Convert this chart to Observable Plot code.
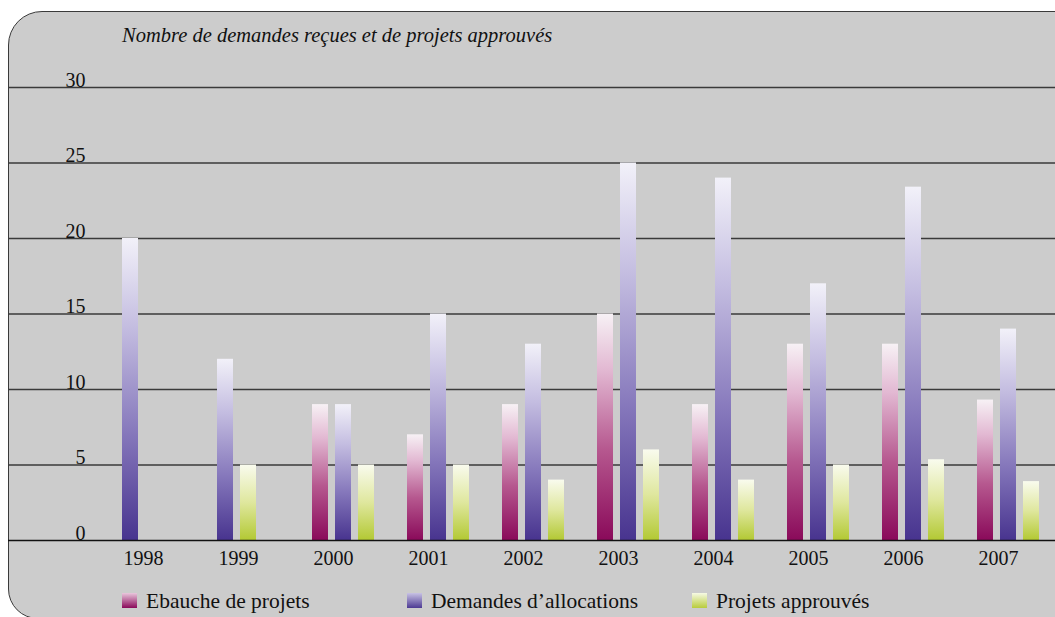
<!DOCTYPE html>
<html>
<head>
<meta charset="utf-8">
<script src="https://cdn.jsdelivr.net/npm/d3@7"></script>
<script src="https://cdn.jsdelivr.net/npm/@observablehq/plot@0.6"></script>
<style>
  html, body { margin: 0; padding: 0; background: #fff; overflow: hidden; }
  #wrap { position: relative; width: 1055px; height: 617px; overflow: hidden; font-family: "Liberation Serif", "DejaVu Serif", serif; color: #111; }
  #panel { position: absolute; left: 8px; top: 11px; width: 1100px; height: 606px; background: #cccccc; border: 1.3px solid #3a3a3a; border-radius: 34px 0 0 30px; }
  #title { position: absolute; left: 122px; top: 25px; font-size: 20.5px; line-height: 1; font-style: italic; white-space: nowrap; font-family: "Liberation Serif", serif; }
  #chart { position: absolute; left: 0; top: 0; }
  #legend { position: absolute; left: 0; top: 0; width: 1055px; height: 617px; }
  .sw { position: absolute; top: 593px; width: 15px; height: 15px; }
  .lt { position: absolute; top: 591px; font-size: 21.5px; line-height: 1; white-space: nowrap; font-family: "Liberation Serif", serif; }
  #defs { position: absolute; width: 0; height: 0; }
</style>
</head>
<body>
<svg id="defs" width="0" height="0">
  <defs>
    <linearGradient id="gE" x1="0" y1="0" x2="0" y2="1">
      <stop offset="0" stop-color="#f7f1f5"/>
      <stop offset="0.25" stop-color="#e2b8d2"/>
      <stop offset="0.6" stop-color="#b6588f"/>
      <stop offset="1" stop-color="#8a0a5a"/>
    </linearGradient>
    <linearGradient id="gD" x1="0" y1="0" x2="0" y2="1">
      <stop offset="0" stop-color="#f2f1f9"/>
      <stop offset="0.3" stop-color="#c3bce0"/>
      <stop offset="0.65" stop-color="#8577bb"/>
      <stop offset="1" stop-color="#48348f"/>
    </linearGradient>
    <linearGradient id="gP" x1="0" y1="0" x2="0" y2="1">
      <stop offset="0" stop-color="#f9fbee"/>
      <stop offset="0.5" stop-color="#dfe79e"/>
      <stop offset="1" stop-color="#b3c934"/>
    </linearGradient>
  </defs>
</svg>
<div id="wrap">
  <div id="panel"></div>
  <div id="title">Nombre de demandes reçues et de projets approuvés</div>
  <div id="chart"></div>
  <div id="legend"></div>
</div>
<script>
const years = [1998, 1999, 2000, 2001, 2002, 2003, 2004, 2005, 2006, 2007];
const ebauche = [null, null, 9, 7, 9, 15, 9, 13, 13, 9.3];
const demandes = [20, 12, 9, 15, 13, 25, 24, 17, 23.4, 14];
const projets = [null, 5, 5, 5, 4, 6, 4, 5, 5.35, 3.9];
const seriesNames = ["Ebauche de projets", "Demandes d\u2019allocations", "Projets approuvés"];
const seriesFills = ["url(#gE)", "url(#gD)", "url(#gP)"];
const yTicks = [0, 5, 10, 15, 20, 25, 30];

const seriesValues = [ebauche, demandes, projets];
const rows = [];
years.forEach((yr, i) => {
  let slot = 0;
  seriesValues.forEach((vals, s) => {
    const v = vals[i];
    if (v == null) return;
    rows.push({i, year: yr, s, value: v, slot});
    slot++;
  });
});
const slotStep = 23 / 95, halfW = 8 / 95;
const barMarks = seriesValues.map((_, s) =>
  Plot.rectY(rows.filter(r => r.s === s), {
    x1: r => r.i + (r.slot - 1) * slotStep - halfW,
    x2: r => r.i + (r.slot - 1) * slotStep + halfW,
    y1: 0, y2: "value",
    fill: seriesFills[s]
  })
);

const chart = Plot.plot({
  width: 1055, height: 617,
  marginLeft: 8, marginRight: 0, marginTop: 87, marginBottom: 77,
  style: {background: "transparent", fontFamily: "Liberation Serif, serif", fontSize: "20px", color: "#111"},
  x: {domain: [-145 / 95, 902 / 95], axis: null},
  y: {domain: [0, 30], axis: null},
  marks: [
    Plot.ruleY(yTicks.filter(d => d > 0), {stroke: "#3a3a3a", strokeWidth: 1.3}),
    ...barMarks,
    Plot.ruleY([0], {stroke: "#111", strokeWidth: 1.5}),
    Plot.text(yTicks, {y: d => d, text: d => String(d), frameAnchor: "left", dx: 77, dy: -1, textAnchor: "end", lineAnchor: "bottom", fill: "#111", fontFamily: "Liberation Serif, serif", fontSize: 20}),
    Plot.text(years, {x: (d, i) => i, text: d => String(d), frameAnchor: "bottom", y: 0, dy: 10, dx: -10, lineAnchor: "top", fill: "#111", fontFamily: "Liberation Serif, serif", fontSize: 20})
  ]
});
document.getElementById("chart").appendChild(chart);

const legendColors = [["#e9c6dc", "#8a0a5a"], ["#c8c2e4", "#4d3a93"], ["#f6f9e4", "#b8cc3c"]];
const legendX = [122, 407, 692];
const legend = document.getElementById("legend");
seriesNames.forEach((name, s) => {
  const sw = document.createElement("div");
  sw.className = "sw";
  sw.style.left = legendX[s] + "px";
  sw.style.background = `linear-gradient(${legendColors[s][0]}, ${legendColors[s][1]})`;
  legend.appendChild(sw);
  const t = document.createElement("div");
  t.className = "lt";
  t.style.left = (legendX[s] + 24) + "px";
  t.textContent = name;
  legend.appendChild(t);
});
</script>
</body>
</html>
